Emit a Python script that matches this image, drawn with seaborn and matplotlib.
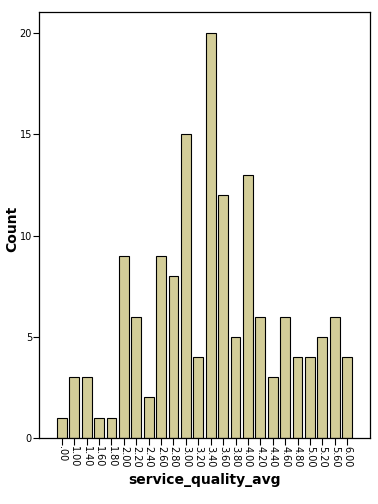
import seaborn as sns
import matplotlib.pyplot as plt
import pandas as pd

categories = ['.00', '1.00', '1.40', '1.60', '1.80', '2.00', '2.20', '2.40',
              '2.60', '2.80', '3.00', '3.20', '3.40', '3.60', '3.80', '4.00',
              '4.20', '4.40', '4.60', '4.80', '5.00', '5.20', '5.60', '6.00']
counts = [1, 3, 3, 1, 1, 9, 6, 2, 9, 8, 15, 4, 20, 12, 5, 13, 6, 3, 6, 4, 4, 5, 6, 4]

df = pd.DataFrame({'service_quality_avg': categories, 'Count': counts})

sns.set_style('ticks', {'axes.edgecolor': 'black', 'xtick.color': 'black',
                        'ytick.color': 'black', 'text.color': 'black',
                        'axes.labelcolor': 'black'})
plt.rcParams['font.family'] = ['DejaVu Sans']

fig = plt.figure(figsize=(3.78, 5.04), dpi=100)
ax = fig.add_axes([0.103, 0.131, 0.876, 0.845])

sns.barplot(data=df, x='service_quality_avg', y='Count', order=categories,
            color='#d3cd98', edgecolor='black', linewidth=0.8, width=0.8,
            saturation=1, ax=ax)

ax.set_xlim(-1.85, len(categories) - 1 + 1.85)
ax.set_ylim(0, 21.04)
ax.set_yticks([0, 5, 10, 15, 20])
ax.tick_params(axis='y', labelsize=7, length=4, width=0.8, pad=1, colors='black')
ax.tick_params(axis='x', labelsize=7, length=5, width=0.8, pad=1,
               labelrotation=-90, colors='black')

for s in ax.spines.values():
    s.set_linewidth(0.9)
    s.set_color('black')
    s.set_visible(True)

ax.set_xlabel('service_quality_avg', fontsize=10, fontweight='bold', labelpad=4)
ax.set_ylabel('Count', fontsize=10, fontweight='bold')
ax.yaxis.set_label_coords(-0.06, 0.49)

fig.savefig('out.png', dpi=100)
